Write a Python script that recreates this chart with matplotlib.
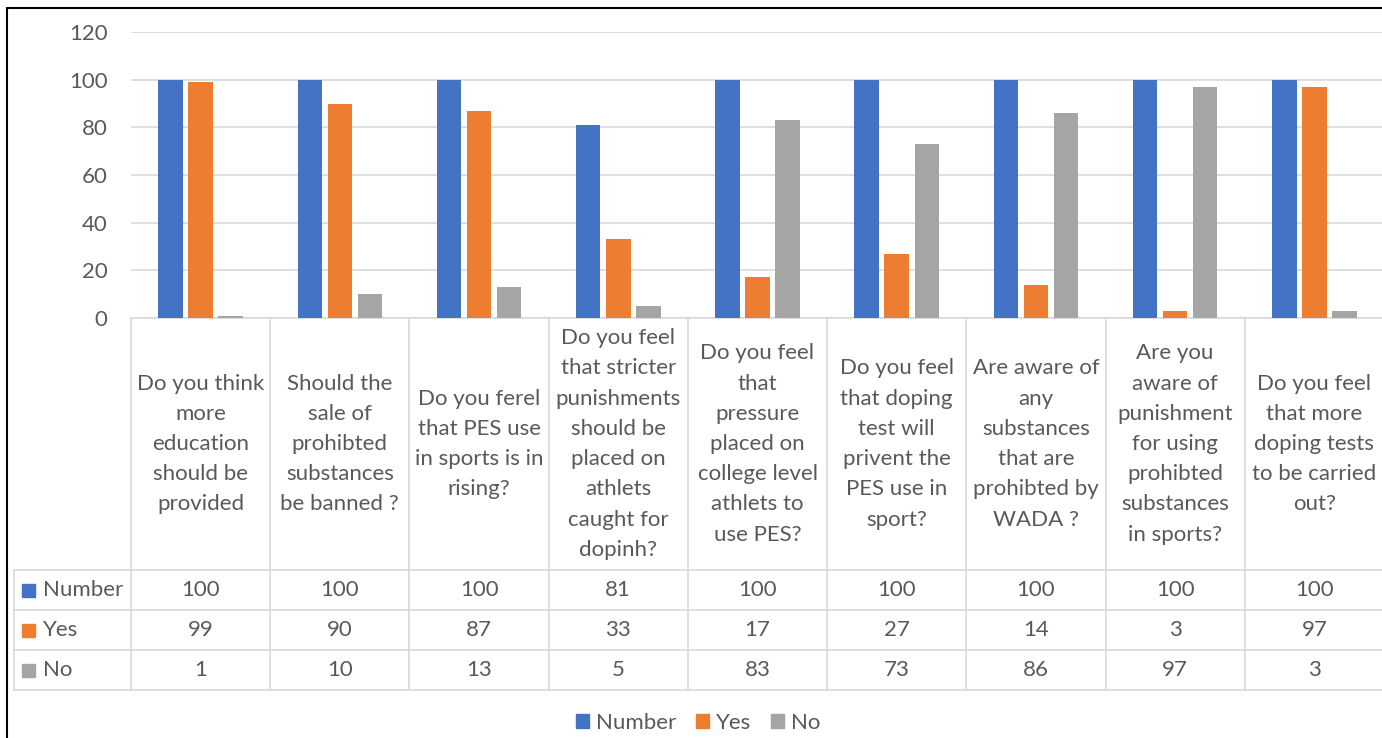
import matplotlib.pyplot as plt
from matplotlib.patches import Patch, Rectangle

questions = [
    "Do you think\nmore\neducation\nshould be\nprovided",
    "Should the\nsale of\nprohibted\nsubstances\nbe banned ?",
    "Do you ferel\nthat PES use\nin sports is in\nrising?",
    "Do you feel\nthat stricter\npunishments\nshould be\nplaced on\nathlets\ncaught for\ndopinh?",
    "Do you feel\nthat\npressure\nplaced on\ncollege level\nathlets to\nuse PES?",
    "Do you feel\nthat doping\ntest will\nprivent the\nPES use in\nsport?",
    "Are aware of\nany\nsubstances\nthat are\nprohibted by\nWADA ?",
    "Are you\naware of\npunishment\nfor using\nprohibted\nsubstances\nin sports?",
    "Do you feel\nthat more\ndoping tests\nto be carried\nout?",
]
series_names = ["Number", "Yes", "No"]
number = [100, 100, 100, 81, 100, 100, 100, 100, 100]
yes = [99, 90, 87, 33, 17, 27, 14, 3, 97]
no = [1, 10, 13, 5, 83, 73, 86, 97, 3]
colors = ["#4472C4", "#ED7D31", "#A5A5A5"]
yticks = [0, 20, 40, 60, 80, 100, 120]

TXT = "#595959"
GRID = "#D9D9D9"
FS = 16
plt.rcParams['font.family'] = ['Lato', 'DejaVu Sans']

W, H = 1382, 738
fig = plt.figure(figsize=(W / 100, H / 100), dpi=100)

# outer chart border
fig.patches.append(Rectangle((7 / W, -0.1), 1.2, 1 - 8 / H + 0.1, transform=fig.transFigure,
                             fill=False, edgecolor="black", linewidth=1.5))

left, right = 131, 1384
ax = fig.add_axes([left / W, 1 - 318 / H, (right - left) / W, (318 - 32) / H])
n = len(questions)
x = list(range(n))
bw = 0.176
step = 0.216
for k, vals in enumerate([number, yes, no]):
    ax.bar([i + (k - 1) * step for i in x], vals, width=bw, color=colors[k], zorder=3)

ax.set_xlim(-0.5, n - 0.5)
ax.set_ylim(0, 120)
ax.set_yticks(yticks)
ax.yaxis.grid(True, color=GRID, linewidth=1.2)
ax.set_xticks([])
for s in ["top", "right", "left"]:
    ax.spines[s].set_visible(False)
ax.spines["bottom"].set_color(GRID)
ax.spines["bottom"].set_linewidth(1.2)
ax.tick_params(axis="y", length=0, labelsize=FS, labelcolor=TXT, pad=17)

# data table under the bars
tab = fig.add_axes([left / W, 1 - 690 / H, (right - left) / W, (690 - 318) / H], sharex=ax)
tab.set_ylim(372, 0)
tab.axis("off")
label_left = -0.5 - (131 - 14) / ((right - left) / n)
rows = [252, 292, 332, 372]
for y in rows:
    tab.plot([label_left, n], [y, y], color=GRID, lw=1.2, clip_on=False)
for i in range(n + 1):
    tab.plot([i - 0.5, i - 0.5], [0, 372], color=GRID, lw=1.2, clip_on=False)
tab.plot([label_left, label_left], [252, 372], color=GRID, lw=1.2, clip_on=False)

for i, q in enumerate(questions):
    tab.text(i, 126, q, ha="center", va="center", fontsize=FS, color=TXT, linespacing=1.64)

for r, (name, vals) in enumerate(zip(series_names, [number, yes, no])):
    yc = 272 + 40 * r
    tab.add_patch(Rectangle((label_left + 0.058, yc - 6.5), 0.094, 13, color=colors[r], clip_on=False))
    tab.text(label_left + 0.21, yc, name, ha="left", va="center", fontsize=FS, color=TXT)
    for i, v in enumerate(vals):
        tab.text(i, yc, str(v), ha="center", va="center", fontsize=FS, color=TXT)

handles = [Patch(color=c, label=s) for c, s in zip(colors, series_names)]
fig.legend(handles=handles, loc="center", bbox_to_anchor=(698 / W, 1 - 723 / H), ncol=3,
           frameon=False, fontsize=FS, labelcolor=TXT, handlelength=0.6, handleheight=0.6,
           handletextpad=0.3, columnspacing=0.9)

fig.savefig("out.png", dpi=100, facecolor="white")
